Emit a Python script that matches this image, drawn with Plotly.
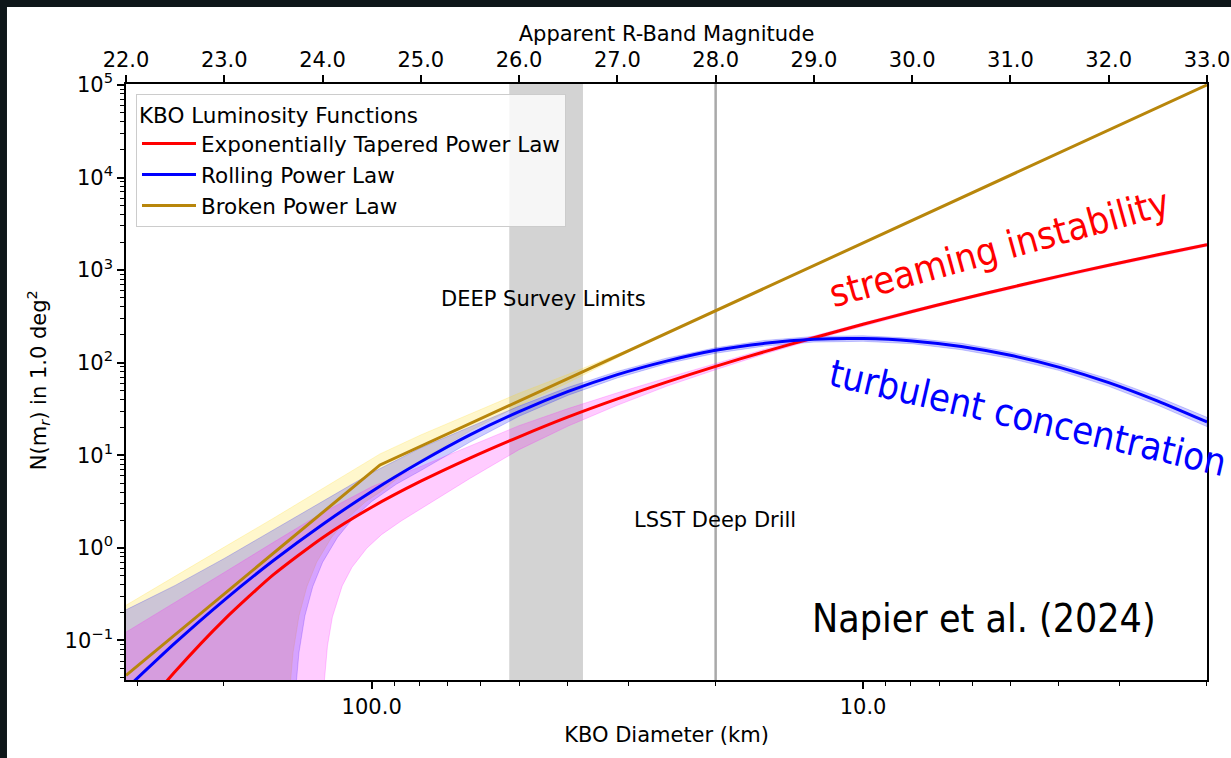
import plotly.graph_objects as go

# ---------------- data ----------------
MAG = [22.0, 22.5, 23.0, 23.5, 24.0, 24.5, 25.0, 25.5, 26.0, 26.5, 27.0, 27.5,
       28.0, 28.5, 29.0, 29.5, 30.0, 30.5, 31.0, 31.5, 32.0, 32.5, 33.0]

# Exponentially tapered power law (red) + magenta uncertainty band
ETPL = [0.011, 0.0462, 0.168, 0.513, 1.29, 2.75, 5.25, 9.33, 15.85, 26.0, 40.7, 61.7,
        91.2, 131.8, 186.2, 260, 357, 485, 650, 861, 1130, 1462, 1884]
ETPL_HI = [0.123, 0.257, 0.543, 1.148, 2.40, 4.57, 7.59, 12.6, 20.9, 32.0, 47.3, 68.4,
           98.2, 140, 195, 270, 372, 501, 673, 891, 1167, 1514, 1950]
ETPL_LO_MAG = [22.0, 23.98, 24.0, 24.02, 24.05, 24.1, 24.2, 24.3, 24.45, 24.6, 24.8, 25.0,
               25.25, 25.5, 26.0, 26.5, 27.0, 27.5, 28.0, 28.5, 29.0, 29.5, 30.0, 30.5,
               31.0, 31.5, 32.0, 32.5, 33.0]
ETPL_LO = [1e-4, 1e-4, 0.0102, 0.038, 0.087, 0.179, 0.388, 0.618, 0.991, 1.39, 1.95, 2.63,
           3.85, 5.62, 11.5, 20.7, 34.7, 55.6, 84.1, 124.5, 178, 249, 344, 468,
           627, 828, 1084, 1406, 1807]

# Rolling power law (blue) + blue uncertainty band
RPL = [0.030, 0.094, 0.273, 0.73, 1.79, 4.07, 8.5, 16.6, 29.6, 48.9, 74.3, 104,
       136, 162, 179, 182, 172, 149.6, 120.2, 89.1, 61.0, 38.5, 22.9]
RPL_HI = [0.214, 0.393, 0.769, 1.556, 3.19, 6.46, 12.05, 20.4, 34.0, 54.2, 80.5, 112,
          145, 174, 192, 195.4, 184, 162, 130, 96.6, 66.8, 42.7, 25.7]
RPL_LO_MAG = [22.0, 23.68, 23.69, 23.72, 23.76, 23.82, 23.9, 24.0, 24.15, 24.3, 24.5, 24.75,
              25.0, 25.5, 26.0, 26.5, 27.0, 27.5, 28.0, 28.5, 29.0, 29.5, 30.0, 30.5,
              31.0, 31.5, 32.0, 32.5, 33.0]
RPL_LO = [1e-4, 1e-4, 0.0026, 0.0245, 0.074, 0.184, 0.38, 0.697, 1.29, 2.02, 3.17, 4.87,
          6.84, 13.9, 26.4, 44.6, 68.5, 97.5, 126.5, 151.4, 167, 170.2, 160.3, 138,
          111, 82.2, 55.6, 34.7, 20.4]

# Broken power law (gold) + yellow uncertainty band
BPL_MAG = [22.0, 24.585, 33.0]
BPL = [0.042, 7.87, 100000]
BPL_HI_MAG = [22.0, 22.5, 23.0, 23.5, 24.0, 24.585, 25.0, 25.5, 26.0, 26.5, 27.0, 27.3]
BPL_HI = [0.240, 0.490, 1.02, 2.09, 4.37, 10.35, 16.6, 28.0, 46.9, 75.0, 124, 166]
BPL_LO_MAG = [22.0, 23.6, 23.63, 23.66, 23.70, 23.76, 23.84, 23.94, 24.09, 24.24, 24.44,
              24.585, 25.0, 25.5, 26.0, 26.5, 27.0, 27.3]
BPL_LO = [1e-4, 1e-4, 0.0026, 0.0245, 0.074, 0.184, 0.38, 0.70, 1.29, 2.02, 3.17,
          4.0, 8.87, 18.3, 34.4, 61.0, 113, 166]

DEEP_LIMITS = [25.9, 26.65]
LSST_LIMIT = 28.0

TOP_TICKS = [22, 23, 24, 25, 26, 27, 28, 29, 30, 31, 32, 33]
DIAM_EXTENT = [316.2, 1.995]
DIAM_TICKS = [100, 10]
DIAM_TICK_TEXT = ["100.0", "10.0"]
Y_TICKS = [0.1, 1, 10, 100, 1000, 10000, 100000]
Y_TICK_TEXT = ["10<sup>−1</sup>", "10<sup>0</sup>", "10<sup>1</sup>", "10<sup>2</sup>",
               "10<sup>3</sup>", "10<sup>4</sup>", "10<sup>5</sup>"]
Y_TITLE = "N(m<sub><i>r</i></sub>) in 1.0 deg<sup>2</sup>"

MINOR_D = [k * 10 ** e for e in (0, 1, 2) for k in range(2, 10)]
MINOR_Y = [k * 10 ** e for e in range(-2, 5) for k in range(2, 10)]

FONT = "DejaVu Sans"
FS = 21
COND = "DejaVu Sans Condensed"

fig = go.Figure()


def band(m_hi, hi, m_lo, lo, color):
    xs = list(m_hi) + list(reversed(m_lo))
    ys = list(hi) + list(reversed(lo))
    fig.add_trace(go.Scatter(x=xs, y=ys, xaxis="x2", yaxis="y", mode="lines",
                             fill="toself", fillcolor=color,
                             line=dict(color=color, width=1),
                             showlegend=False, hoverinfo="skip"))


# invisible helper so the diameter axis is drawn
fig.add_trace(go.Scatter(x=DIAM_EXTENT, y=[1, 1], xaxis="x", yaxis="y", mode="lines",
                         line=dict(width=0), showlegend=False, hoverinfo="skip"))

band(BPL_HI_MAG, BPL_HI, BPL_LO_MAG, BPL_LO, "rgba(255,215,0,0.2)")
band(MAG, RPL_HI, RPL_LO_MAG, RPL_LO, "rgba(0,0,255,0.2)")
band(MAG, ETPL_HI, ETPL_LO_MAG, ETPL_LO, "rgba(255,0,255,0.2)")

fig.add_trace(go.Scatter(x=MAG, y=ETPL, xaxis="x2", yaxis="y", mode="lines",
                         line=dict(color="#ff0000", width=3, shape="spline", smoothing=0.6),
                         name="Exponentially Tapered Power Law"))
fig.add_trace(go.Scatter(x=MAG, y=RPL, xaxis="x2", yaxis="y", mode="lines",
                         line=dict(color="#0000ff", width=3, shape="spline", smoothing=0.6),
                         name="Rolling Power Law"))
fig.add_trace(go.Scatter(x=BPL_MAG, y=BPL, xaxis="x2", yaxis="y", mode="lines",
                         line=dict(color="#b8860b", width=3),
                         name="Broken Power Law"))

axis_common = dict(showline=True, linecolor="black", linewidth=1.6, showgrid=False,
                   zeroline=False, ticks="outside", ticklen=7, tickwidth=1.6,
                   tickcolor="black", automargin=False,
                   tickfont=dict(family=FONT, size=FS, color="black"))

fig.update_layout(
    width=1231, height=758,
    margin=dict(l=126, r=24, t=84, b=78, autoexpand=False),
    paper_bgcolor="#0e1619", plot_bgcolor="white",
    font=dict(family=FONT, size=FS, color="black"),
    xaxis=dict(type="log", range=[2.5, 0.3], tickvals=DIAM_TICKS, ticktext=DIAM_TICK_TEXT,
               minor=dict(tickvals=MINOR_D, ticks="outside", ticklen=4, tickwidth=1.2,
                          tickcolor="black", showgrid=False),
               title=dict(text="KBO Diameter (km)", standoff=9,
                          font=dict(family=FONT, size=FS, color="black")),
               **axis_common),
    xaxis2=dict(overlaying="x", side="top", anchor="y", range=[22, 33],
                tickvals=TOP_TICKS, tickformat=".1f",
                title=dict(text="Apparent R-Band Magnitude", standoff=0,
                           font=dict(family=FONT, size=FS, color="black")),
                **axis_common),
    yaxis=dict(type="log", range=[-1.427, 5.01], tickvals=Y_TICKS, ticktext=Y_TICK_TEXT,
               mirror=True,
               minor=dict(tickvals=MINOR_Y, ticks="outside", ticklen=4, tickwidth=1.2,
                          tickcolor="black", showgrid=False),
               **axis_common),
    legend=dict(x=0.00925, y=0.983, xanchor="left", yanchor="top",
                bgcolor="rgba(255,255,255,0.8)", bordercolor="#cccccc", borderwidth=1,
                font=dict(family=FONT, size=21.5, color="black"),
                title=dict(text="KBO Luminosity Functions",
                           font=dict(family=FONT, size=21.5, color="black")),
                itemwidth=54),
    shapes=[
        dict(type="rect", xref="paper", yref="paper", x0=-0.1101, x1=1.05, y0=-0.2, y1=1.1292,
             fillcolor="white", line=dict(width=0), layer="below"),
        dict(type="rect", xref="x2", yref="paper", x0=DEEP_LIMITS[0], x1=DEEP_LIMITS[1],
             y0=0, y1=1, fillcolor="#d3d3d3", line=dict(width=0), layer="below"),
        dict(type="line", xref="x2", yref="paper", x0=LSST_LIMIT, x1=LSST_LIMIT,
             y0=0, y1=1, line=dict(color="#a9a9a9", width=2.5), layer="below"),
    ],
    annotations=[
        dict(text=Y_TITLE, xref="paper", yref="paper", x=-0.0814, y=0.503,
             xanchor="center", yanchor="middle", showarrow=False, textangle=-90,
             font=dict(family=FONT, size=FS, color="black")),
        dict(text="DEEP Survey Limits", xref="paper", yref="paper", x=0.3862, y=0.6398,
             xanchor="center", yanchor="middle", showarrow=False,
             font=dict(family=FONT, size=FS, color="black")),
        dict(text="LSST Deep Drill", xref="paper", yref="paper", x=0.5449, y=0.2685,
             xanchor="center", yanchor="middle", showarrow=False,
             font=dict(family=FONT, size=FS, color="black")),
        dict(text="streaming instability", xref="paper", yref="paper", x=0.8085, y=0.7248,
             xanchor="center", yanchor="middle", showarrow=False, textangle=-15.5,
             font=dict(family=COND, size=38, color="#ff0000")),
        dict(text="turbulent concentration", xref="paper", yref="paper", x=0.8344, y=0.4396,
             xanchor="center", yanchor="middle", showarrow=False, textangle=13,
             font=dict(family=COND, size=38, color="#0000ff")),
        dict(text="Napier et al. (2024)", xref="paper", yref="paper", x=0.7937, y=0.104,
             xanchor="center", yanchor="middle", showarrow=False,
             font=dict(family=COND, size=39, color="black")),
    ],
)

fig.write_html("out.html")
